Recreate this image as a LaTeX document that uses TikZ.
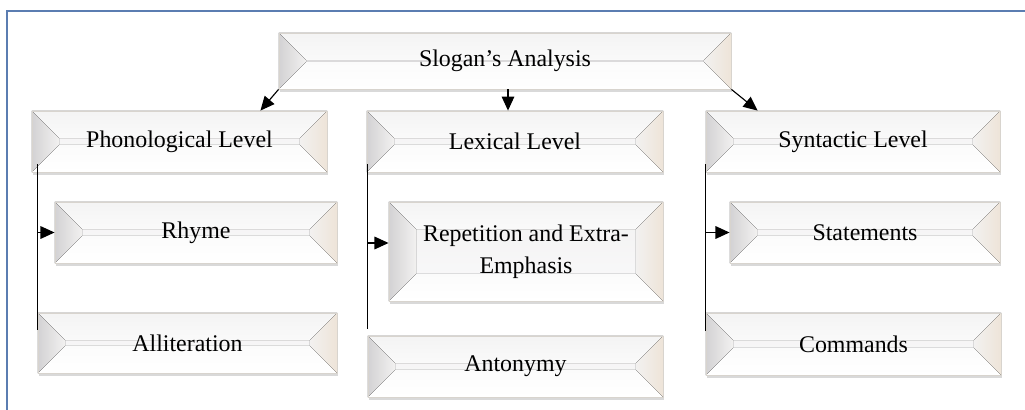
\documentclass[tikz,border=0pt]{standalone}
\usepackage{fontspec}
\setmainfont{Liberation Serif}
\usetikzlibrary{arrows.meta,positioning,calc,shadows}
\definecolor{framecol}{HTML}{5B7DB1}
\definecolor{bevgray}{HTML}{D3D2D4}
\definecolor{bevtan}{HTML}{EEE4D8}
\definecolor{facetop}{HTML}{F2F1F0}
\definecolor{facebot}{HTML}{FAFAFC}
\definecolor{edgecol}{HTML}{D8D4CE}
\def\bev{0.68cm}
\tikzset{
  bevelbox/.style={
    rectangle, draw=edgecol, line width=0.6pt,
    minimum height=1.525cm, inner sep=2pt, align=center,
    font=\fontsize{17}{22.8}\selectfont,
    drop shadow={opacity=0.3, shadow xshift=0.03cm, shadow yshift=-0.08cm},
    path picture={
      \coordinate (pbl) at (path picture bounding box.south west);
      \coordinate (ptr) at (path picture bounding box.north east);
      \coordinate (ptl) at (path picture bounding box.north west);
      \coordinate (pbr) at (path picture bounding box.south east);
      % face
      \fill[top color=facetop, bottom color=facebot] (pbl) rectangle (ptr);
      % top bevel
      \fill[top color=gray!9, bottom color=gray!4]
        (ptl) -- (ptr) -- ($(ptr)+(-\bev,-\bev)$) -- ($(ptl)+(\bev,-\bev)$) -- cycle;
      % bottom bevel
      \fill[top color=gray!3, bottom color=white]
        (pbl) -- (pbr) -- ($(pbr)+(-\bev,\bev)$) -- ($(pbl)+(\bev,\bev)$) -- cycle;
      % left bevel
      \fill[left color=bevgray, right color=facetop]
        (ptl) -- ($(ptl)+(\bev,-\bev)$) -- ($(pbl)+(\bev,\bev)$) -- (pbl) -- cycle;
      % right bevel
      \fill[left color=facetop, right color=bevtan]
        (ptr) -- ($(ptr)+(-\bev,-\bev)$) -- ($(pbr)+(-\bev,\bev)$) -- (pbr) -- cycle;
    }
  },
  arr/.style={-{Triangle[length=10pt,width=9pt]}, line width=0.8pt},
  spine/.style={line width=0.8pt},
  framer/.style={draw=framecol, line width=1pt},
}

\begin{document}
\begin{tikzpicture}[x=0.025cm, y=-0.025cm]

  \useasboundingbox (0,0) rectangle (1025,409);

  % ── Frame ──────────────────────────────────────────────────────────────────
  \draw[framer] (7,420) -- (7,11) -- (1040,11);

  % ── Column positions ───────────────────────────────────────────────────────
  \def\colA{179.5}   % Phonological
  \def\colB{515}     % Lexical
  \def\colC{853}     % Syntactic

  % ── Root ───────────────────────────────────────────────────────────────────
  \node[bevelbox, minimum width=11.3cm, minimum height=1.4cm] (root) at (505,61)
    {Slogan’s Analysis};

  % ── Levels ─────────────────────────────────────────────────────────────────
  \node[bevelbox, minimum width=7.375cm] (phon) at (\colA,141.5) {Phonological Level};
  \node[bevelbox, minimum width=7.4cm]   (lex)  at (\colB,141.5) {Lexical Level};
  \node[bevelbox, minimum width=7.35cm]  (syn)  at (\colC,141.5) {Syntactic Level};

  % ── Phonological items ─────────────────────────────────────────────────────
  \node[bevelbox, minimum width=7.05cm]  (rhyme) at (196,232.5) {Rhyme};
  \node[bevelbox, minimum width=7.475cm, minimum height=1.5cm] (allit) at (187.5,343)
    {Alliteration};

  % ── Lexical items ──────────────────────────────────────────────────────────
  \node[bevelbox, minimum width=6.85cm, minimum height=2.475cm] (rep) at (526,251.5)
    {Repetition and Extra-\\Emphasis};
  \node[bevelbox, minimum width=7.375cm] (anto) at (515.5,366.5) {Antonymy};

  % ── Syntactic items ────────────────────────────────────────────────────────
  \node[bevelbox, minimum width=6.75cm]  (stat) at (865,232.5) {Statements};
  \node[bevelbox, minimum width=7.375cm, minimum height=1.55cm] (comm) at (853.5,344)
    {Commands};

  % ── Root → levels ──────────────────────────────────────────────────────────
  \draw[arr] (root.south west) -- ([xshift=-1.675cm]phon.north east);
  \draw[arr] ([xshift=0.075cm]root.south) -- ([xshift=0.075cm]root.south |- lex.north);
  \draw[arr] (root.south east) -- ([xshift=1.3cm]syn.north west);

  % ── Spines ─────────────────────────────────────────────────────────────────
  \coordinate (sA) at ([xshift=0.15cm,yshift=0.2cm]phon.south west);
  \coordinate (sB) at ([xshift=0.025cm,yshift=0.2cm]lex.south west);
  \coordinate (sC) at ([xshift=0cm,yshift=0.2cm]syn.south west);
  \draw[spine] (sA) -- (sA |- 0,330);
  \draw[spine] (sB) -- (sB |- 0,329);
  \draw[spine] (sC) -- (sC |- 0,331);

  \draw[arr] (sA |- rhyme.west) -- (rhyme.west);
  \draw[arr] (sB |- 0,243) -- (rep.west |- 0,243);
  \draw[arr] (sC |- stat.west) -- (stat.west);

\end{tikzpicture}
\end{document}
